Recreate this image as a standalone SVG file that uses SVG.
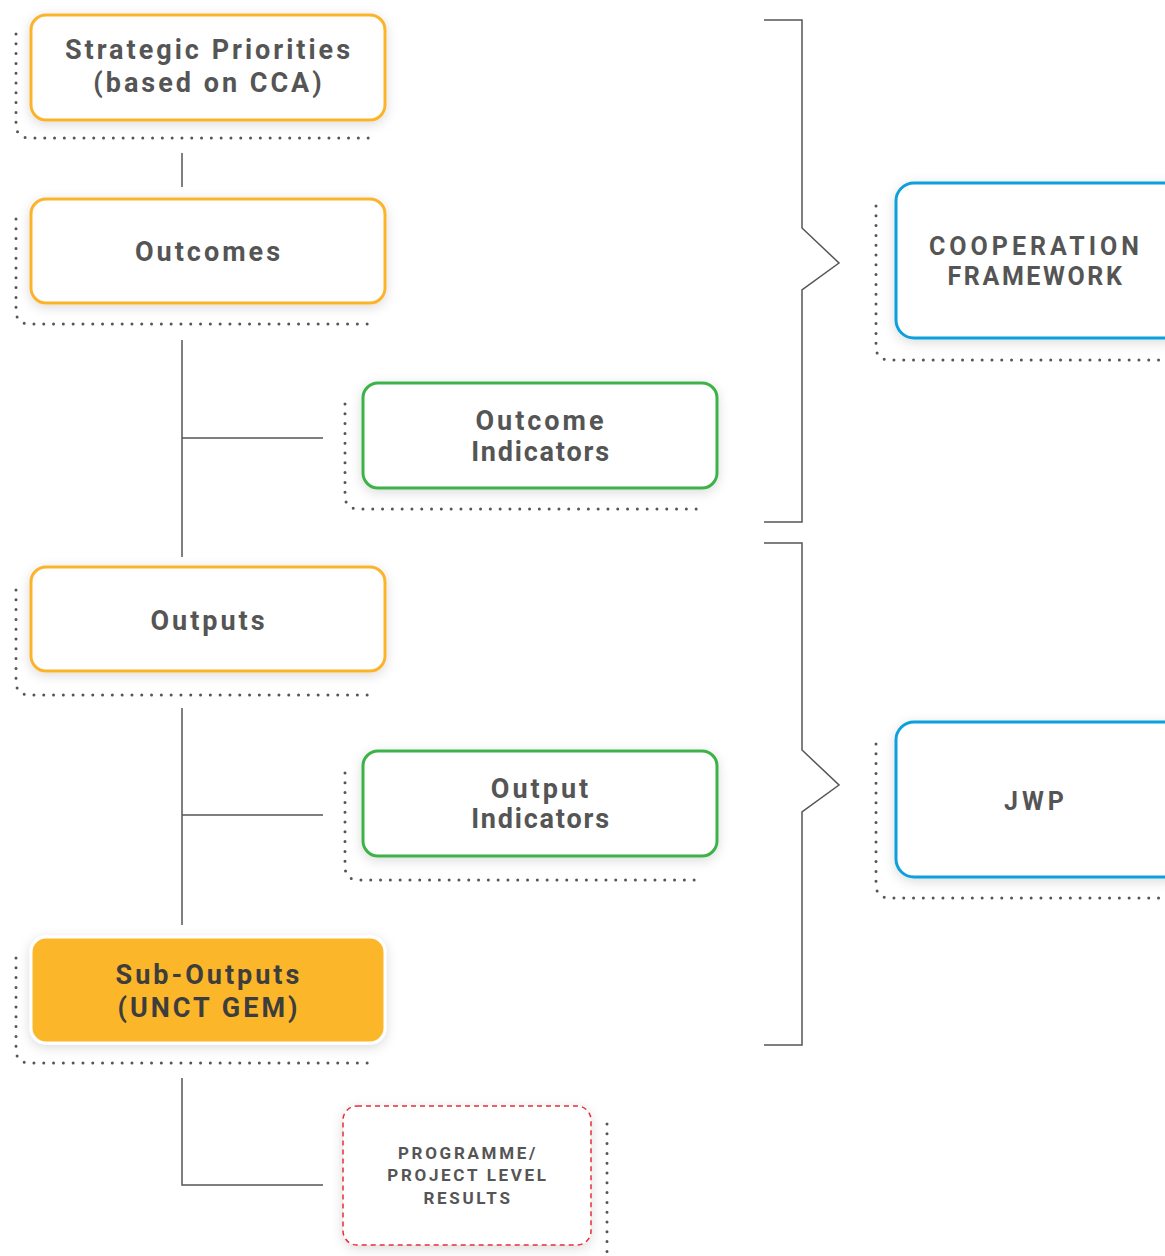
<svg xmlns="http://www.w3.org/2000/svg" width="1165" height="1256" viewBox="0 0 1165 1256">
<defs>
<filter id="sh" x="-20%" y="-30%" width="140%" height="160%">
<feDropShadow dx="0" dy="3" stdDeviation="6" flood-color="#000" flood-opacity="0.14"/>
</filter>
<style>
.box{fill:#fff;stroke-width:3;filter:url(#sh)}
.y{stroke:#FBB42C}
.g{stroke:#3DB249}
.b{stroke:#0DA0DC}
.dot{fill:none;stroke:#555;stroke-width:3;stroke-linecap:round;stroke-dasharray:0 9.8}
.ln{fill:none;stroke:#555;stroke-width:1.5}
.t{font-family:Roboto,"Liberation Sans",sans-serif;font-weight:bold;fill:#555;text-anchor:middle}
.t26{font-size:27px;letter-spacing:3px}
.t24{font-size:25px;letter-spacing:4px}
.t16{font-size:17px;letter-spacing:2.7px}
.ind{letter-spacing:1.8px}
.fw{letter-spacing:2.6px}
</style>
</defs>
<rect width="1165" height="1256" fill="#fff"/>
<g id="connectors">
<line class="ln" x1="182" y1="153" x2="182" y2="187"/>
<line class="ln" x1="182" y1="340" x2="182" y2="557"/>
<line class="ln" x1="182" y1="438" x2="323" y2="438"/>
<line class="ln" x1="182" y1="708" x2="182" y2="925"/>
<line class="ln" x1="182" y1="815" x2="323" y2="815"/>
<path class="ln" d="M182 1078 V1185 H323"/>
<path class="ln" d="M764 20 H802 V228 L839 263 L802 290 V522 H764"/>
<path class="ln" d="M764 543 H802 V750 L839 785 L802 812 V1045 H764"/>
</g>
<g id="n-strategic">
<path class="dot" d="M16 34 V126 Q17 138 30 138 H372"/>
<rect class="box y" x="31" y="15" width="354" height="105" rx="15"/>
<text class="t t26" x="209" y="59">Strategic Priorities</text>
<text class="t t26" x="209" y="92">(based on CCA)</text>
</g>
<g id="n-outcomes">
<path class="dot" d="M16 219 V312 Q17 324 30 324 H372"/>
<rect class="box y" x="31" y="199" width="354" height="104" rx="15"/>
<text class="t t26" x="209" y="261">Outcomes</text>
</g>
<g id="n-outcome-ind">
<path class="dot" d="M345 404 V497 Q346 509 359 509 H702"/>
<rect class="box g" x="363" y="383" width="354" height="105" rx="15"/>
<text class="t t26" x="541" y="430">Outcome</text>
<text class="t t26 ind" x="541" y="461">Indicators</text>
</g>
<g id="n-outputs">
<path class="dot" d="M16 590 V683 Q17 695 30 695 H372"/>
<rect class="box y" x="31" y="567" width="354" height="104" rx="15"/>
<text class="t t26" x="209" y="630">Outputs</text>
</g>
<g id="n-output-ind">
<path class="dot" d="M345 773 V868 Q346 880 359 880 H702"/>
<rect class="box g" x="363" y="751" width="354" height="105" rx="15"/>
<text class="t t26" x="541" y="798">Output</text>
<text class="t t26 ind" x="541" y="828">Indicators</text>
</g>
<g id="n-suboutputs">
<path class="dot" d="M16 958 V1051 Q17 1063 30 1063 H372"/>
<rect x="31" y="937" width="354" height="106" rx="15" fill="#FBB62B" stroke="#fff" stroke-width="3" filter="url(#sh)"/>
<text class="t t26" x="209" y="984" style="fill:#3d3d3d">Sub-Outputs</text>
<text class="t t26" x="209" y="1017" style="fill:#3d3d3d">(UNCT GEM)</text>
</g>
<g id="n-programme">
<path class="dot" d="M607 1124 V1252"/>
<rect x="343" y="1106" width="248" height="139" rx="14" fill="#fff" stroke="#E62E3B" stroke-width="1.5" stroke-dasharray="5 4" filter="url(#sh)"/>
<text class="t t16" x="468" y="1159">PROGRAMME/</text>
<text class="t t16" x="468" y="1181">PROJECT LEVEL</text>
<text class="t t16" x="468" y="1204">RESULTS</text>
</g>
<g id="n-coop">
<path class="dot" d="M876 206 V348 Q877 360 890 360 H1160"/>
<rect class="box b" x="896" y="183" width="290" height="155" rx="18"/>
<text class="t t24" x="1036" y="255">COOPERATION</text>
<text class="t t24 fw" x="1036" y="285">FRAMEWORK</text>
</g>
<g id="n-jwp">
<path class="dot" d="M876 744 V886 Q877 898 890 898 H1160"/>
<rect class="box b" x="896" y="722" width="290" height="155" rx="18"/>
<text class="t t24" x="1036" y="810">JWP</text>
</g>
</svg>
